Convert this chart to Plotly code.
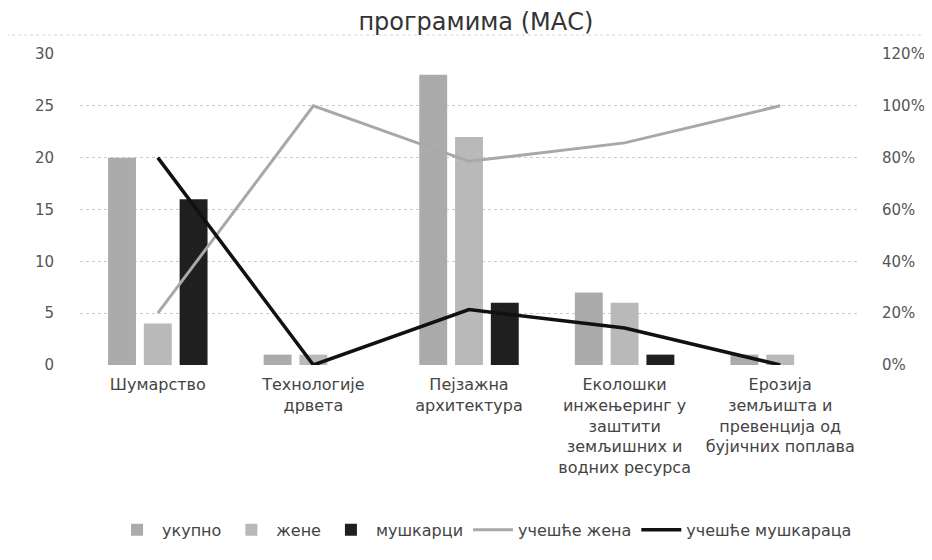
import plotly.graph_objects as go

categories = [
    "Шумарство",
    "Технологије<br>дрвета",
    "Пејзажна<br>архитектура",
    "Еколошки<br>инжењеринг у<br>заштити<br>земљишних и<br>водних ресурса",
    "Ерозија<br>земљишта и<br>превенција од<br>бујичних поплава",
]
ukupno = [20, 1, 28, 7, 1]
zene = [4, 1, 22, 6, 1]
muskarci = [16, 0, 6, 1, 0]
uces_zena = [0.20, 1.00, 0.786, 0.857, 1.00]
uces_muskaraca = [0.80, 0.00, 0.214, 0.143, 0.00]

left_ticks = [0, 5, 10, 15, 20, 25, 30]
right_ticks = [0, 0.2, 0.4, 0.6, 0.8, 1.0, 1.2]

FONT = "DejaVu Sans"
TXT = "#444444"

fig = go.Figure()
fig.add_trace(go.Bar(x=categories, y=ukupno, name="укупно",
                     marker=dict(color="#ababab", line=dict(width=0))))
fig.add_trace(go.Bar(x=categories, y=zene, name="жене",
                     marker=dict(color="#b9b9b9", line=dict(width=0))))
fig.add_trace(go.Bar(x=categories, y=muskarci, name="мушкарци",
                     marker=dict(color="#1f1f1f", line=dict(width=0))))
fig.add_trace(go.Scatter(x=categories, y=uces_zena, name="учешће жена",
                         mode="lines", yaxis="y2",
                         line=dict(color="#a8a8a8", width=3)))
fig.add_trace(go.Scatter(x=categories, y=uces_muskaraca, name="учешће мушкараца",
                         mode="lines", yaxis="y2",
                         line=dict(color="#111111", width=3.5)))

fig.update_layout(
    width=932, height=560,
    margin=dict(l=72, r=82, t=46, b=203),
    paper_bgcolor="white", plot_bgcolor="white",
    font=dict(family=FONT, size=14, color=TXT),
    barmode="group", bargap=0.31, bargroupgap=0.22,
    title=dict(text="програмима (МАС)", x=0.502, xanchor="center",
               yref="container", y=0.975, yanchor="middle",
               font=dict(family=FONT, size=24, color="#333333")),
    xaxis=dict(type="category", showgrid=False, showline=False, ticks="",
               automargin=False,
               tickfont=dict(size=16, color=TXT), ticklabelstandoff=8),
    yaxis=dict(range=[0, 30], tickvals=left_ticks, showline=False, zeroline=False,
               showgrid=True, gridcolor="#cccccc", griddash="dot", gridwidth=1,
               ticks="outside", ticklen=22, tickcolor="rgba(0,0,0,0)",
               automargin=False,
               tickfont=dict(size=15, color="#555555")),
    yaxis2=dict(range=[0, 1.2], tickvals=right_ticks, tickformat=".0%",
                overlaying="y", side="right", showgrid=False, showline=False,
                zeroline=False, ticks="outside", ticklen=20,
                tickcolor="rgba(0,0,0,0)", automargin=False,
                tickfont=dict(size=15, color="#555555")),
    legend=dict(orientation="h", x=0.52, xanchor="center", y=-0.53,
                yanchor="middle", font=dict(size=16, color=TXT),
                itemwidth=40, traceorder="normal"),
    showlegend=True,
    shapes=[
        dict(type="line", xref="paper", yref="paper", x0=-0.095, x1=1.096,
             y0=1.061, y1=1.061, line=dict(color="#d4d4d4", width=1, dash="dot")),
        dict(type="line", xref="paper", yref="paper", x0=1.096, x1=1.096,
             y0=1.061, y1=0.62, line=dict(color="#d4d4d4", width=1, dash="dot")),
    ],
)

fig.write_html("out.html")
